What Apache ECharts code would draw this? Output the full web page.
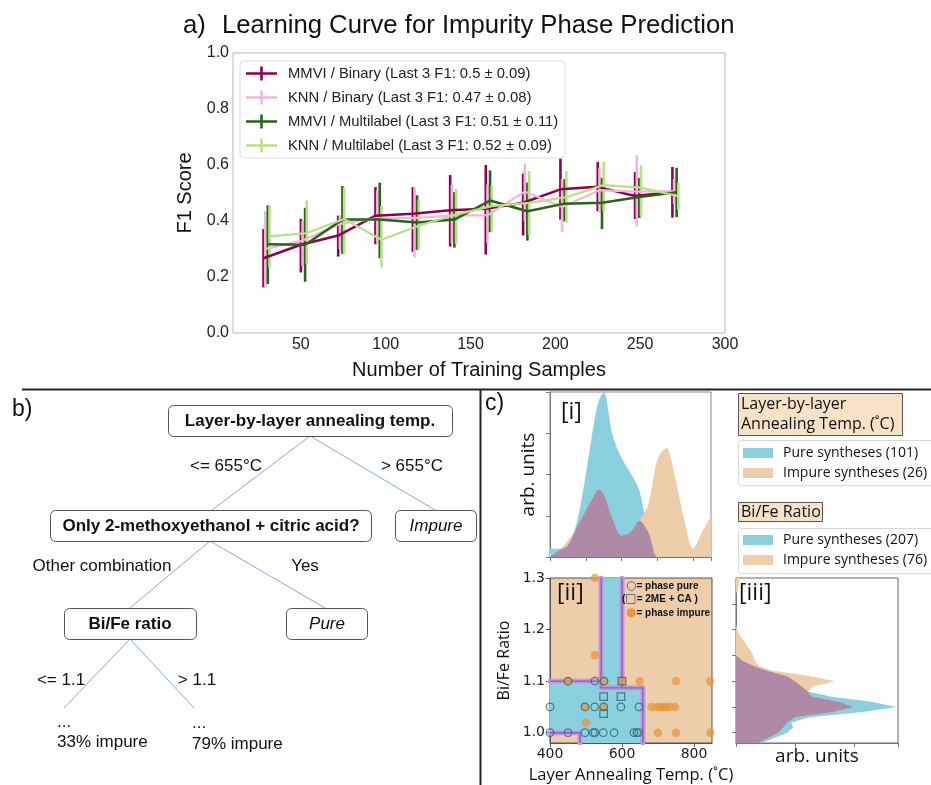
<!DOCTYPE html>
<html><head><meta charset="utf-8">
<script src="https://cdn.jsdelivr.net/npm/echarts@6.0.0/dist/echarts.min.js"></script>
<style>html,body{margin:0;padding:0;background:#fff}#c{width:931px;height:785px}</style>
</head><body><div id="c"></div>
<script>
// ---------- Panel a: learning curve ----------
const trainSizes = [29, 51, 73, 95, 117, 139, 160, 182, 204, 226, 248, 270];
const xTickLabels = [50, 100, 150, 200, 250, 300];
const mmviBinaryMean = [0.267,0.315,0.348,0.419,0.426,0.438,0.444,0.465,0.513,0.522,0.489,0.504];
const mmviBinaryLow  = [0.163,0.216,0.273,0.317,0.290,0.309,0.280,0.348,0.405,0.435,0.407,0.412];
const mmviBinaryHigh = [0.371,0.408,0.419,0.521,0.521,0.564,0.600,0.569,0.623,0.611,0.575,0.593];
const knnBinaryMean  = [0.300,0.330,0.390,0.410,0.410,0.420,0.420,0.505,0.450,0.510,0.505,0.507];
const knnBinaryLow   = [0.165,0.240,0.300,0.320,0.270,0.320,0.320,0.400,0.360,0.430,0.380,0.460];
const knnBinaryHigh  = [0.435,0.400,0.420,0.510,0.520,0.530,0.530,0.605,0.550,0.590,0.635,0.550];
const mmviMultiMean  = [0.317,0.315,0.405,0.405,0.395,0.405,0.473,0.435,0.462,0.465,0.486,0.503];
const mmviMultiLow   = [0.175,0.183,0.283,0.267,0.297,0.305,0.360,0.330,0.399,0.371,0.411,0.414];
const mmviMultiHigh  = [0.456,0.447,0.525,0.537,0.492,0.503,0.581,0.537,0.549,0.554,0.554,0.590];
const knnMultiMean   = [0.345,0.357,0.407,0.333,0.383,0.423,0.453,0.465,0.485,0.528,0.519,0.489];
const knnMultiLow    = [0.235,0.247,0.285,0.234,0.297,0.319,0.363,0.351,0.395,0.435,0.417,0.440];
const knnMultiHigh   = [0.455,0.474,0.520,0.453,0.477,0.515,0.525,0.578,0.578,0.611,0.599,0.537];
const seriesNames = [
  'MMVI / Binary (Last 3 F1: 0.5 \u00b1 0.09)',
  'KNN / Binary (Last 3 F1: 0.47 \u00b1 0.08)',
  'MMVI / Multilabel (Last 3 F1: 0.51 \u00b1 0.11)',
  'KNN / Multilabel (Last 3 F1: 0.52 \u00b1 0.09)'
];

// ---------- Panel c [i]: annealing temperature KDE ----------
const tempGrid    = [400,425,450,475,500,525,537,550,575,600,625,650,675,700,725,750,775,800,825,850];
const tempPure    = [0.05,0.05,0.07,0.21,0.50,0.84,0.95,1.00,0.74,0.60,0.51,0.40,0.15,0.00,0,0,0,0,0,0];
const tempImpure  = [0.00,0.04,0.10,0.18,0.28,0.38,0.41,0.38,0.23,0.13,0.15,0.22,0.32,0.59,0.66,0.48,0.23,0.05,0.15,0.25];
const tempOverlap = [0.00,0.04,0.07,0.18,0.28,0.38,0.41,0.38,0.23,0.13,0.15,0.22,0.15,0.00,0,0,0,0,0,0];

// ---------- Panel c [iii]: Bi/Fe ratio KDE ----------
const ratioGrid    = [0.98,0.99,1.00,1.01,1.02,1.03,1.04,1.05,1.06,1.07,1.08,1.09,1.10,1.11,1.12,1.13,1.14,1.15,1.16,1.17,1.18,1.19,1.20,1.21,1.22,1.23,1.24,1.25,1.26,1.27,1.28,1.29,1.30];
const ratioPure    = [0.43,0.66,0.87,0.97,0.94,1.25,2.15,2.72,2.30,1.60,1.22,1.11,1.00,0.86,0.52,0.29,0.10,0,0,0,0,0,0,0,0,0,0,0,0,0,0,0,0];
const ratioImpure  = [0.38,0.55,0.72,0.80,0.87,1.00,1.65,2.00,1.75,1.28,1.23,1.31,1.68,1.25,0.63,0.38,0.32,0.29,0.24,0.18,0.12,0.06,0.02,0,0,0,0,0,0,0,0.04,0.05,0.06];
const ratioOverlap = [0.38,0.55,0.72,0.80,0.87,1.00,1.65,2.00,1.75,1.28,1.22,1.11,1.00,0.86,0.52,0.29,0.10,0,0,0,0,0,0,0,0,0,0,0,0,0,0,0,0];

// ---------- Panel c [ii]: decision map ----------
const pureRegion = [[400,1.0],[400,1.1],[542,1.1],[542,1.3],[600,1.3],[600,1.087],[658,1.087],[658,0.98],[483,0.98],[483,1.0]];
const boundaryPaths = [
  [[400,1.1],[542,1.1]],
  [[542,1.3],[542,1.087],[658,1.087],[658,0.98]],
  [[600,1.3],[600,1.087]],
  [[400,1.0],[483,1.0],[483,0.98]]
];
const purePoints = [[400,1.0],[450,1.0],[497,1.0],[520,1.0],[525,1.0],[548,1.0],[578,1.0],[633,1.0],[641,1.0],[646,1.0],
  [400,1.05],[497,1.05],[524,1.05],[549,1.05],[597,1.05],[647,1.05],[450,1.1],[525,1.1],[550,1.1]];
const twoMeCaPoints = [[549,1.07],[597,1.07],[549,1.037],[600,1.1]];
const impurePoints = [[525,1.3],[525,1.15],[500,1.02],[450,1.1],[550,1.1],[600,1.1],[649,1.1],[750,1.1],[845,1.1],
  [497,1.05],[549,1.05],[682,1.05],[697,1.05],[706,1.05],[714,1.05],[722,1.05],[732,1.05],[747,1.05],[700,1.0],[750,1.0],[845,1.0]];
const ratioTicks = [1.0, 1.1, 1.2, 1.3];
const ratioMinorTicks = [1.0, 1.05, 1.1, 1.15, 1.2, 1.25];

// ---------- styles ----------
const colMMVIb = '#8e0152', colKNNb = '#f1b6da', colMMVIm = '#276419', colKNNm = '#b8e186';
const BLUE = '#8bd0df', TAN = '#eecdaa', PURPLE = '#ad8aa6';
const SANS = 'Liberation Sans', OPEN = 'Open Sans', DJ = 'DejaVu Sans';

function errSeries(xs, lo, hi, dx, color) {
  return {
    type: 'custom', xAxisIndex: 0, yAxisIndex: 0, silent: true,
    data: xs.map((x, i) => [x + dx, lo[i], hi[i]]),
    encode: { x: 0, y: [1, 2] },
    renderItem: (p, api) => {
      const a = api.coord([api.value(0), api.value(1)]);
      const b = api.coord([api.value(0), api.value(2)]);
      return { type: 'line', shape: { x1: a[0], y1: a[1], x2: b[0], y2: b[1] }, style: { stroke: color, lineWidth: 2.6 } };
    }
  };
}
function lineSeries(name, xs, ys, dx, color, w) {
  return {
    name, type: 'line', xAxisIndex: 0, yAxisIndex: 0, symbol: 'none', silent: true,
    data: xs.map((x, i) => [x + dx, ys[i]]),
    itemStyle: { color }, lineStyle: { color, width: w }
  };
}
function kdeArea(xs, ys, color, z) {
  return {
    type: 'line', xAxisIndex: 1, yAxisIndex: 1, symbol: 'none', smooth: 0.3, silent: true, z,
    data: xs.map((x, i) => [x, ys[i]]),
    lineStyle: { width: 0, color }, areaStyle: { color, opacity: 1 }
  };
}
function kdeHorizontal(vals, color, z) {
  return {
    type: 'custom', xAxisIndex: 3, yAxisIndex: 3, silent: true, z,
    data: [0],
    renderItem: (p, api) => {
      const pts = ratioGrid.map((r, i) => api.coord([vals[i], r]));
      pts.push(api.coord([0, ratioGrid[ratioGrid.length - 1]]));
      pts.push(api.coord([0, ratioGrid[0]]));
      return { type: 'polygon', shape: { points: pts }, style: { fill: color } };
    }
  };
}

const hiddenAxis = (extra) => Object.assign({
  type: 'value', splitLine: { show: false },
  axisLabel: { show: false },
  axisLine: { show: true, lineStyle: { color: '#777', width: 1 } },
  axisTick: { show: true, inside: false, length: 4, lineStyle: { color: '#777' } }
}, extra);

const legendIcon = 'path://M0,5.7h31v2.6H0z M14.2,0h2.6v14h-2.6z';

// ---------- graphics (titles, tree, legends) ----------
const G = [];
function txt(x, y, text, size, opt) {
  opt = opt || {};
  G.push({ type: 'text', x, y, z: 100, silent: true, style: Object.assign({
    text, fontSize: size, fontFamily: SANS, fill: '#111', align: 'left', verticalAlign: 'middle'
  }, opt) });
}
function box(x, y, w, h, fill, stroke, r) {
  G.push({ type: 'rect', z: 99, silent: true, shape: { x, y, width: w, height: h, r: r || 0 }, style: { fill, stroke, lineWidth: 1 } });
}
function seg(x1, y1, x2, y2, color, w) {
  G.push({ type: 'line', z: 98, silent: true, shape: { x1, y1, x2, y2 }, style: { stroke: color, lineWidth: w } });
}

// panel a title
txt(183, 26, 'a)', 25.7);
txt(222, 26, 'Learning Curve for Impurity Phase Prediction', 25.7);
// dividers
seg(22, 389.5, 931, 389.5, '#222', 2);
seg(480.5, 389, 480.5, 785, '#222', 2);

// panel b tree
txt(12, 410, 'b)', 23);
const TREE = '#88a6de';
seg(310, 436, 212, 510, TREE, 1);
seg(310, 436, 435, 510, TREE, 1);
seg(210, 541, 130, 608, TREE, 1);
seg(210, 541, 325, 608, TREE, 1);
seg(130, 639, 64, 708, TREE, 1);
seg(130, 639, 194, 708, TREE, 1);
box(168.5, 405.5, 284, 31, '#fff', '#555', 5);
txt(310, 421, 'Layer-by-layer annealing temp.', 17, { fontWeight: 'bold', align: 'center' });
box(50.5, 510.5, 321, 31, '#fff', '#555', 5);
txt(211, 526, 'Only 2-methoxyethanol + citric acid?', 17, { fontWeight: 'bold', align: 'center' });
box(395.5, 510.5, 81, 31, '#fff', '#555', 5);
txt(436, 526, 'Impure', 17, { fontStyle: 'italic', align: 'center' });
box(64.5, 608.5, 132, 31, '#fff', '#555', 5);
txt(130, 624, 'Bi/Fe ratio', 17, { fontWeight: 'bold', align: 'center' });
box(286.5, 608.5, 81, 31, '#fff', '#555', 5);
txt(327, 624, 'Pure', 17, { fontStyle: 'italic', align: 'center' });
txt(226, 466, '<= 655\u00b0C', 17, { align: 'center' });
txt(412, 466, '> 655\u00b0C', 17, { align: 'center' });
txt(102, 566, 'Other combination', 17, { align: 'center' });
txt(305, 566, 'Yes', 17, { align: 'center' });
txt(61, 680, '<= 1.1', 17, { align: 'center' });
txt(197, 680, '> 1.1', 17, { align: 'center' });
txt(57, 722, '...', 17);
txt(57, 742, '33% impure', 17);
txt(192, 723, '...', 17);
txt(192, 744, '79% impure', 17);

// panel c labels
txt(485, 404, 'c)', 23);
txt(561, 412, '[i]', 23, { fontFamily: OPEN });
txt(557, 593, '[ii]', 23, { fontFamily: OPEN });
txt(739, 593, '[iii]', 23, { fontFamily: OPEN });
// right legends
box(738.5, 393.5, 164, 42, '#f6e2c6', '#555', 0);
txt(741, 404, 'Layer-by-layer', 16, { fontFamily: OPEN });
txt(741, 424, 'Annealing Temp. (\u02daC)', 16, { fontFamily: OPEN });
box(738.5, 440.5, 205, 45, '#fff', '#d8d8d8', 3);
box(743, 448, 30, 10, BLUE, null, 0);
box(743, 468, 30, 10, TAN, null, 0);
txt(783, 453, 'Pure syntheses (101)', 14, { fontFamily: OPEN });
txt(783, 473, 'Impure syntheses (26)', 14, { fontFamily: OPEN });
box(738.5, 502.5, 84, 19, '#f6e2c6', '#555', 0);
txt(741, 512, 'Bi/Fe Ratio', 16, { fontFamily: OPEN });
box(738.5, 528.5, 205, 45, '#fff', '#d8d8d8', 3);
box(743, 535, 30, 10, BLUE, null, 0);
box(743, 555, 30, 10, TAN, null, 0);
txt(783, 540, 'Pure syntheses (207)', 14, { fontFamily: OPEN });
txt(783, 560, 'Impure syntheses (76)', 14, { fontFamily: OPEN });
// [ii] inner legend
const richL = {
  b: { fontFamily: SANS, fontWeight: 'bold', fontSize: 10, fill: '#111' },
  o: { fontFamily: DJ, fontSize: 12, fill: '#2d6475' },
  d: { fontFamily: DJ, fontSize: 12, fill: '#e8983a' }
};
G.push({ type: 'text', x: 626, y: 586, z: 100, silent: true, style: { text: '{o|\u25cb}{b|= phase pure}', rich: richL, verticalAlign: 'middle' } });
G.push({ type: 'text', x: 622, y: 599, z: 100, silent: true, style: { text: '{b|(}{o|\u25a1}{b|= 2ME + CA )}', rich: richL, verticalAlign: 'middle' } });
G.push({ type: 'text', x: 626, y: 613, z: 100, silent: true, style: { text: '{d|\u25cf}{b|= phase impure}', rich: richL, verticalAlign: 'middle' } });

const option = {
  animation: false,
  backgroundColor: '#fff',
  textStyle: { fontFamily: SANS },
  grid: [
    { left: 233, top: 53, width: 492, height: 280, show: true, borderColor: '#b5b5b5', borderWidth: 1, outerBoundsMode: 'none', containLabel: false },
    { left: 550, top: 392, width: 161, height: 165, show: true, borderColor: '#888', borderWidth: 1, outerBoundsMode: 'none', containLabel: false },
    { left: 550, top: 578, width: 162, height: 165, show: true, backgroundColor: TAN, borderColor: '#555', borderWidth: 1, outerBoundsMode: 'none', containLabel: false },
    { left: 736, top: 578, width: 162, height: 165, show: true, borderColor: '#666', borderWidth: 1, outerBoundsMode: 'none', containLabel: false }
  ],
  xAxis: [
    { gridIndex: 0, type: 'value', min: 10, max: 300, splitLine: { show: false },
      axisLine: { show: false }, axisTick: { show: false },
      axisLabel: { customValues: xTickLabels, fontSize: 16, color: '#222', margin: 4, fontFamily: SANS },
      name: 'Number of Training Samples', nameLocation: 'middle', nameGap: 27,
      nameTextStyle: { fontSize: 20, color: '#111', fontFamily: SANS } },
    hiddenAxis({ gridIndex: 1, min: 400, max: 850, interval: 100 }),
    { gridIndex: 2, type: 'value', min: 400, max: 850, interval: 200, splitLine: { show: false },
      axisLine: { show: true, lineStyle: { color: '#555' } },
      axisTick: { show: true, length: 4, lineStyle: { color: '#555' } },
      axisLabel: { fontSize: 14, color: '#222', margin: 4, fontFamily: DJ },
      name: 'Layer Annealing Temp. (\u02daC)', nameLocation: 'middle', nameGap: 24,
      nameTextStyle: { fontSize: 16.5, color: '#111', fontFamily: OPEN } },
    hiddenAxis({ gridIndex: 3, min: 0, max: 2.75, interval: 1,
      name: 'arb. units', nameLocation: 'middle', nameGap: 4,
      nameTextStyle: { fontSize: 19, color: '#111', fontFamily: OPEN } })
  ],
  yAxis: [
    { gridIndex: 0, type: 'value', min: 0, max: 1, interval: 0.2, splitLine: { show: false },
      axisLine: { show: false }, axisTick: { show: false },
      axisLabel: { fontSize: 16, color: '#222', margin: 4, fontFamily: SANS, formatter: v => v.toFixed(1) },
      name: 'F1 Score', nameLocation: 'middle', nameGap: 38,
      nameTextStyle: { fontSize: 20, color: '#111', fontFamily: SANS } },
    hiddenAxis({ gridIndex: 1, min: 0, max: 1, interval: 0.25,
      name: 'arb. units', nameLocation: 'middle', nameGap: 12,
      nameTextStyle: { fontSize: 19, color: '#111', fontFamily: OPEN } }),
    { gridIndex: 2, type: 'value', min: 0.98, max: 1.3, splitLine: { show: false },
      axisLine: { show: true, lineStyle: { color: '#555' } },
      axisTick: { show: true, length: 4, customValues: ratioTicks, lineStyle: { color: '#555' } },
      axisLabel: { customValues: ratioTicks, fontSize: 14, color: '#222', margin: 5, fontFamily: DJ, formatter: v => v.toFixed(1) },
      name: 'Bi/Fe Ratio', nameLocation: 'middle', nameGap: 38,
      nameTextStyle: { fontSize: 16, color: '#111', fontFamily: OPEN } },
    hiddenAxis({ gridIndex: 3, min: 0.98, max: 1.3,
      axisTick: { show: true, length: 4, customValues: ratioMinorTicks, lineStyle: { color: '#777' } } })
  ],
  legend: {
    left: 240, top: 61, orient: 'vertical', backgroundColor: '#fff',
    borderColor: '#dcdcdc', borderWidth: 1, borderRadius: 4, padding: [5, 7, 5, 6],
    itemGap: 9, itemWidth: 31, itemHeight: 14, selectedMode: false,
    textStyle: { fontSize: 14.8, color: '#222', fontFamily: SANS, padding: [0, 0, 0, 6] },
    data: seriesNames.map(n => ({ name: n, icon: legendIcon }))
  },
  series: [
    errSeries(trainSizes, mmviBinaryLow, mmviBinaryHigh, -1, colMMVIb),
    lineSeries(seriesNames[0], trainSizes, mmviBinaryMean, -1, colMMVIb, 2.5),
    errSeries(trainSizes, knnBinaryLow, knnBinaryHigh, 0, colKNNb),
    lineSeries(seriesNames[1], trainSizes, knnBinaryMean, 0, colKNNb, 2.2),
    errSeries(trainSizes, mmviMultiLow, mmviMultiHigh, 1.5, colMMVIm),
    lineSeries(seriesNames[2], trainSizes, mmviMultiMean, 1.5, colMMVIm, 2.5),
    errSeries(trainSizes, knnMultiLow, knnMultiHigh, 2.5, colKNNm),
    lineSeries(seriesNames[3], trainSizes, knnMultiMean, 2.5, colKNNm, 2.2),

    kdeArea(tempGrid, tempPure, BLUE, 3),
    kdeArea(tempGrid, tempImpure, TAN, 4),
    kdeArea(tempGrid, tempOverlap, PURPLE, 5),

    { type: 'custom', xAxisIndex: 2, yAxisIndex: 2, silent: true, z: 2, data: [0],
      renderItem: (p, api) => ({ type: 'polygon', shape: { points: pureRegion.map(v => api.coord(v)) }, style: { fill: BLUE } }) },
    { type: 'lines', coordinateSystem: 'cartesian2d', xAxisIndex: 2, yAxisIndex: 2, polyline: true, silent: true, z: 3,
      data: boundaryPaths.map(c => ({ coords: c })), lineStyle: { color: '#c895dc', width: 5, opacity: 1, cap: 'round', join: 'round' } },
    { type: 'lines', coordinateSystem: 'cartesian2d', xAxisIndex: 2, yAxisIndex: 2, polyline: true, silent: true, z: 4,
      data: boundaryPaths.map(c => ({ coords: c })), lineStyle: { color: '#7d68c6', width: 1.4, opacity: 1 } },
    { type: 'scatter', xAxisIndex: 2, yAxisIndex: 2, silent: true, z: 5, data: impurePoints, symbolSize: 8.5,
      itemStyle: { color: 'rgba(232,150,52,0.88)', borderWidth: 0 } },
    { type: 'scatter', xAxisIndex: 2, yAxisIndex: 2, silent: true, z: 6, data: purePoints, symbolSize: 7.5,
      itemStyle: { color: 'rgba(0,0,0,0)', borderColor: '#2d6475', borderWidth: 1.2 } },
    { type: 'scatter', xAxisIndex: 2, yAxisIndex: 2, silent: true, z: 6, data: twoMeCaPoints, symbol: 'rect', symbolSize: 7.5,
      itemStyle: { color: 'rgba(0,0,0,0)', borderColor: '#2d6475', borderWidth: 1.2 } },

    kdeHorizontal(ratioPure, BLUE, 3),
    kdeHorizontal(ratioImpure, TAN, 4),
    kdeHorizontal(ratioOverlap, PURPLE, 5)
  ],
  graphic: { elements: G }
};
const chart = echarts.init(document.getElementById('c'));
chart.setOption(option);
</script></body></html>
